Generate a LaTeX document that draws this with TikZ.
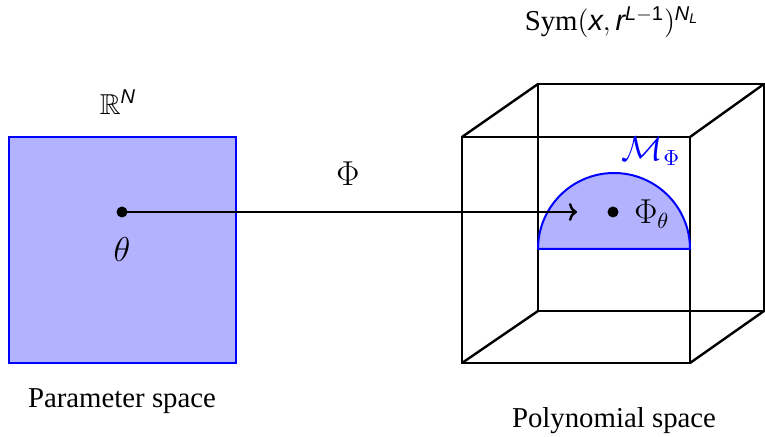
\documentclass[tikz,border=0pt]{standalone}
\usepackage{amsmath,amssymb}
\usepackage{fontspec}
\setmainfont{Liberation Serif}
\newfontfamily\hsans{Liberation Sans}
\newcommand\hv[1]{\text{\hsans\itshape #1}}
\usetikzlibrary{arrows.meta}
\begin{document}
\begin{tikzpicture}[x=0.5pt,y=-0.5pt,
  every node/.style={font=\fontsize{14.4}{17}\selectfont, inner sep=0pt},
  mathlbl/.style={font=\fontsize{16}{19}\selectfont},
  region/.style={draw=blue, fill=blue!30, line width=1pt},
  edge/.style={draw=black, line width=1.2pt},
  dotmark/.style={circle, fill=black, minimum size=5.5pt, inner sep=0pt}]
\useasboundingbox (0,0) rectangle (765,437);
% parameter space
\path[region] (9,137) rectangle (236,363);
\node (RN) at (118,102) {$\mathbb{R}^{\hv{N}}$};
\node[dotmark] (theta) at (122,212) {};
\node[mathlbl] (thetalbl) at (122,250) {$\theta$};
\node (param) at (122,401) {Parameter space};
% cube
\draw[edge] (538,84) rectangle (764,311);
\draw[edge] (462,137) rectangle (690,363);
\draw[edge] (462,137) -- (538,84);
\draw[edge] (690,137) -- (764,84);
\draw[edge] (462,363) -- (538,311);
\draw[edge] (690,363) -- (764,311);
% manifold
\path[region] (538,249) arc[start angle=180,end angle=360,radius=76] -- cycle;
\node[mathlbl,text=blue] (M) at (651,151) {$\mathcal{M}_\Phi$};
\node[dotmark] (phitheta) at (613,212) {};
\node[mathlbl,anchor=west] (phithetalbl) at (634,214) {$\Phi_\theta$};
\coordinate (tip) at (577,212);
\draw[line width=1.2pt,-{To[length=4pt,width=9pt]}] (theta.center) -- (tip);
\node[mathlbl] (Phi) at (348,174) {$\Phi$};
\node (sym) at (612,22) {Sym$(\hv{x},\hv{r}^{\hv{L}-\text{\hsans 1}})^{\hv{N}_{\hv{L}}}$};
\node (poly) at (614,421) {Polynomial space};
\end{tikzpicture}
\end{document}
